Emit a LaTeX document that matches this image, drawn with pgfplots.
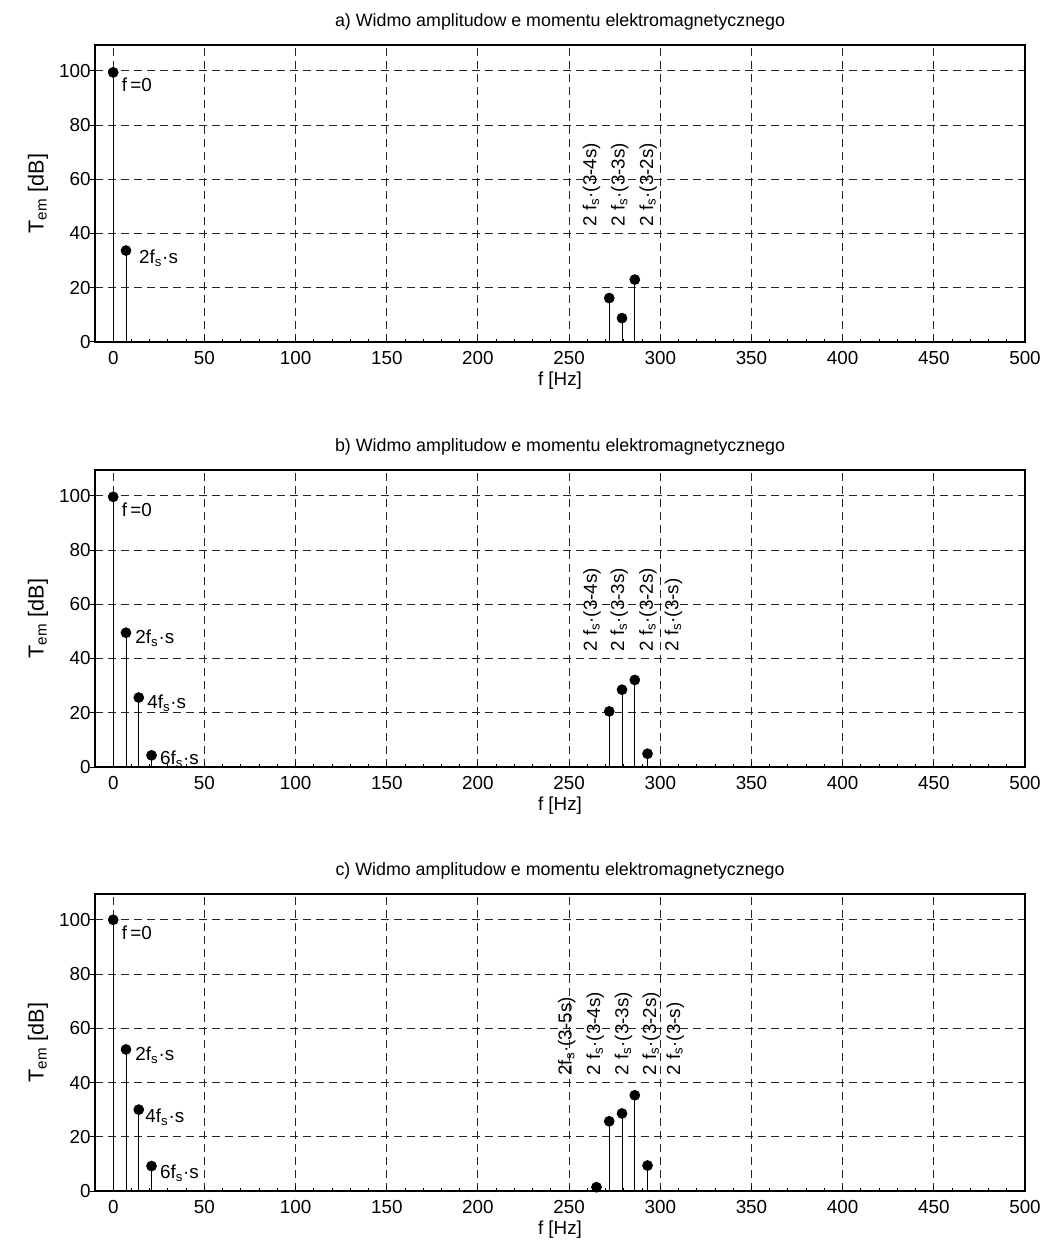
\documentclass[border=0pt]{standalone}
\usepackage{pgfplots}
\usepackage{pgfplotstable}
\pgfplotsset{compat=1.18}
\usepackage{fontspec}
\setmainfont{Liberation Sans}

\pgfplotstableread{
f T
0 99.4
7 33.7
272 16.2
279 8.8
286 23.0
}\dataA
\pgfplotstableread{
f T
0 99.6
7 49.5
14 25.6
21 4.3
272 20.5
279 28.5
286 32.1
293 4.9
}\dataB
\pgfplotstableread{
f T
0 100
7 52.2
14 30.0
21 9.2
265 1.4
272 25.7
279 28.6
286 35.3
293 9.4
}\dataC

\pgfplotsset{
  panel/.style={
    scale only axis=true,
    width=558pt, height=178.2pt,
    anchor=south west,
    xmin=-10, xmax=500, ymin=0, ymax=109.5,
    xtick={0,50,...,500}, ytick={0,20,...,100},
    minor x tick num=4,
    tick pos=left,
    tick align=inside,
    major tick length=3pt, minor tick length=1.8pt,
    every y tick/.append style={xshift=-3pt},
    axis line style={line width=0.9pt},
    every tick/.style={black, line width=0.6pt},
    grid=major,
    major grid style={black!85, line width=0.6pt, dash pattern=on 4.8pt off 3pt},
    /pgf/number format/assume math mode=true,
    xticklabel style={anchor=base, inner sep=0pt, yshift=-13.2pt},
    yticklabel style={anchor=east, inner sep=0pt, xshift=-2.4pt},
    title style={at={(axis description cs:0.5,1.027)}, anchor=base, inner sep=0pt, font=\fontsize{10.7}{13}\selectfont},
    xlabel style={at={(axis description cs:0.5,-0.148)}, anchor=base, inner sep=0pt},
    ylabel style={at={(axis description cs:-0.0613,0.5)}, anchor=center, inner sep=0pt, font=\fontsize{13}{15}\selectfont},
    xlabel={f [Hz]},
    ylabel={T\textsubscript{em} [dB]},
    clip=false,
  },
  stem/.style={ycomb, black, line width=0.6pt, mark=*, mark size=3pt, mark options={fill=black, line width=0.4pt}},
}

\newcommand{\rl}[1]{2 f\textsubscript{s}·(3-#1)}

\begin{document}
\fontsize{11.3}{13}\selectfont
\begin{tikzpicture}
\useasboundingbox (0,0) rectangle (627pt,-748.2pt);

% panel a
\begin{axis}[panel, at={(57pt,-205.2pt)},
  title={a) Widmo amplitudow e momentu elektromagnetycznego}]
\addplot[stem] table[x=f,y=T]{\dataA};
\node[anchor=west, inner sep=0pt] at (axis cs:4.6,95) {f\,=0};
\node[anchor=base west, inner sep=0pt] at (axis cs:14,29) {2f\textsubscript{s}·s};
\node[rotate=90, anchor=base west, inner sep=0pt] at (axis cs:265,42.4) {\rl{4s}};
\node[rotate=90, anchor=base west, inner sep=0pt] at (axis cs:280.5,42.4) {\rl{3s}};
\node[rotate=90, anchor=base west, inner sep=0pt] at (axis cs:296,42.4) {\rl{2s}};
\end{axis}

% panel b
\begin{axis}[panel, at={(57pt,-460.2pt)},
  title={b) Widmo amplitudow e momentu elektromagnetycznego}]
\addplot[stem] table[x=f,y=T]{\dataB};
\node[anchor=west, inner sep=0pt] at (axis cs:4.6,95) {f\,=0};
\node[anchor=base west, inner sep=0pt] at (axis cs:12,45.5) {2f\textsubscript{s}·s};
\node[anchor=base west, inner sep=0pt] at (axis cs:18.5,21.5) {4f\textsubscript{s}·s};
\node[anchor=base west, inner sep=0pt] at (axis cs:25.5,0.8) {6f\textsubscript{s}·s};
\node[rotate=90, anchor=base west, inner sep=0pt] at (axis cs:265.2,42.4) {\rl{4s}};
\node[rotate=90, anchor=base west, inner sep=0pt] at (axis cs:280.1,42.4) {\rl{3s}};
\node[rotate=90, anchor=base west, inner sep=0pt] at (axis cs:295.9,42.4) {\rl{2s}};
\node[rotate=90, anchor=base west, inner sep=0pt] at (axis cs:309.9,42.4) {\rl{s}};
\end{axis}

% panel c
\begin{axis}[panel, at={(57pt,-714.6pt)},
  title={c) Widmo amplitudow e momentu elektromagnetycznego}]
\addplot[stem] table[x=f,y=T]{\dataC};
\node[anchor=west, inner sep=0pt] at (axis cs:4.6,95.3) {f\,=0};
\node[anchor=base west, inner sep=0pt] at (axis cs:12,48) {2f\textsubscript{s}·s};
\node[anchor=base west, inner sep=0pt] at (axis cs:17.5,25.3) {4f\textsubscript{s}·s};
\node[anchor=base west, inner sep=0pt] at (axis cs:25.5,4.6) {6f\textsubscript{s}·s};
\node[rotate=90, anchor=base west, inner sep=0pt] at (axis cs:251.4,42.4) {2f\textsubscript{s}·(3-5s)};
\node[rotate=90, anchor=base west, inner sep=0pt] at (axis cs:267,42.4) {\rl{4s}};
\node[rotate=90, anchor=base west, inner sep=0pt] at (axis cs:282.5,42.4) {\rl{3s}};
\node[rotate=90, anchor=base west, inner sep=0pt] at (axis cs:297.7,42.4) {\rl{2s}};
\node[rotate=90, anchor=base west, inner sep=0pt] at (axis cs:310.8,42.4) {\rl{s}};
\end{axis}
\end{tikzpicture}
\end{document}
